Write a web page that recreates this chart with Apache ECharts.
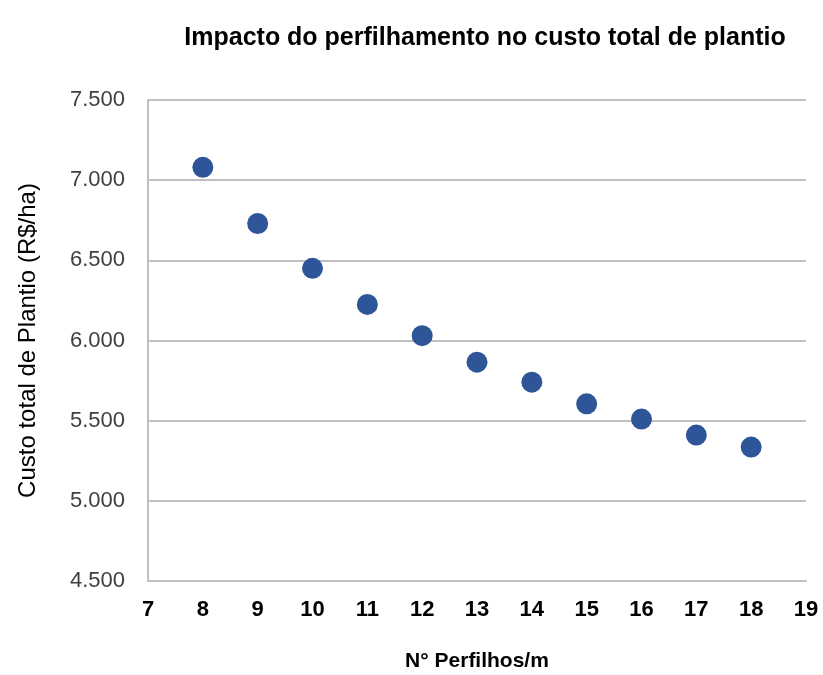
<!DOCTYPE html>
<html>
<head>
<meta charset="utf-8">
<script src="https://cdn.jsdelivr.net/npm/echarts@6/dist/echarts.min.js"></script>
<style>
  html, body { margin: 0; padding: 0; background: #fff; }
  #chart { width: 823px; height: 675px; }
</style>
</head>
<body>
<div id="chart"></div>
<script>
const perfilhos = [8, 9, 10, 11, 12, 13, 14, 15, 16, 17, 18];
const custo = [7080, 6730, 6450, 6225, 6030, 5865, 5740, 5605, 5510, 5410, 5335];

const fmtBR = (v) => {
  const s = String(Math.round(v));
  return s.length > 3 ? s.slice(0, -3) + "." + s.slice(-3) : s;
};

const chart = echarts.init(document.getElementById("chart"));
chart.setOption({
  backgroundColor: "#ffffff",
  animation: false,
  title: {
    text: "Impacto do perfilhamento no custo total de plantio",
    left: 480,
    top: 21,
    textAlign: "center",
    textStyle: {
      fontFamily: "'Liberation Sans Narrow', 'Liberation Sans', Arial, sans-serif",
      fontSize: 25,
      fontWeight: "bold",
      color: "#000"
    }
  },
  grid: { left: 148, right: 17, top: 100, bottom: 94, outerBoundsMode: "none", containLabel: false },
  xAxis: {
    type: "value",
    min: 7,
    max: 19,
    interval: 1,
    name: "N° Perfilhos/m",
    nameLocation: "middle",
    nameGap: 70,
    nameTextStyle: {
      fontFamily: "'Liberation Sans', Arial, sans-serif",
      fontSize: 21,
      fontWeight: "bold",
      color: "#000"
    },
    axisLine: { show: true, lineStyle: { color: "#bfbfbf", width: 2 } },
    axisTick: { show: false },
    splitLine: { show: false },
    axisLabel: {
      margin: 18,
      fontFamily: "'Liberation Sans', Arial, sans-serif",
      fontSize: 22,
      fontWeight: "bold",
      color: "#000"
    }
  },
  yAxis: {
    type: "value",
    min: 4500,
    max: 7500,
    interval: 500,
    name: "Custo total de Plantio (R$/ha)",
    nameLocation: "middle",
    nameGap: 108,
    nameTextStyle: {
      fontFamily: "'Liberation Sans', Arial, sans-serif",
      fontSize: 24,
      color: "#000"
    },
    axisLine: { show: true, lineStyle: { color: "#bfbfbf", width: 2 } },
    axisTick: { show: false },
    splitLine: { show: true, lineStyle: { color: "#bfbfbf", width: 2 } },
    axisLabel: {
      margin: 23,
      formatter: fmtBR,
      fontFamily: "'Liberation Sans', Arial, sans-serif",
      fontSize: 22,
      color: "#404040"
    }
  },
  series: [
    {
      type: "scatter",
      data: perfilhos.map((x, i) => [x, custo[i]]),
      symbol: "circle",
      symbolSize: 21,
      itemStyle: { color: "#2e5597", opacity: 1 }
    }
  ]
});
</script>
</body>
</html>
